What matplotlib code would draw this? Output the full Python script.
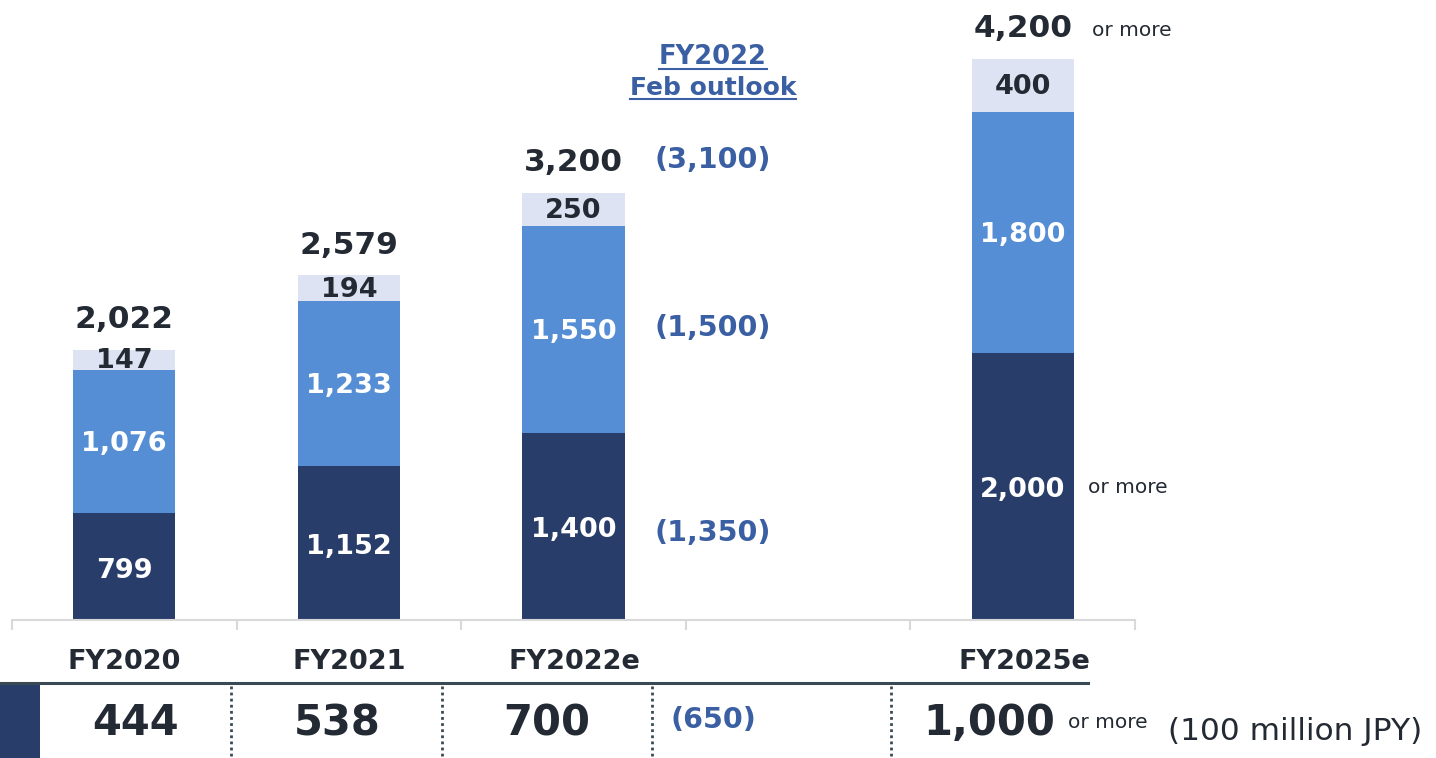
import matplotlib.pyplot as plt
from matplotlib.patches import Rectangle
from matplotlib.lines import Line2D

# data (100 million JPY)
categories = ["FY2020", "FY2021", "FY2022e", "", "FY2025e"]
bottom_vals = [799, 1152, 1400, 0, 2000]
middle_vals = [1076, 1233, 1550, 0, 1800]
top_vals = [147, 194, 250, 0, 400]
totals = [2022, 2579, 3200, 0, 4200]
outlook_vals = [3100, 1500, 1350]          # FY2022 Feb outlook (total, middle, bottom)
table_vals = ["444", "538", "700", "(650)", "1,000"]

NAVY = "#283d6a"
MID = "#558ed5"
LIGHT = "#dde3f2"
DARK = "#232a33"
BLUE_TXT = "#3a5fa3"
GRID = "#d9d9d9"

W, H = 1436, 758
fig = plt.figure(figsize=(W / 100, H / 100), dpi=100)


def fx(px):
    return px / W


def fy(py):
    return 1 - py / H


ax = fig.add_axes([fx(12), fy(620), fx(1135) - fx(12), fy(0) - fy(620)])
ax.set_xlim(-0.5, 4.5)
ax.set_ylim(0, 4641)
for s in ["top", "left", "right"]:
    ax.spines[s].set_visible(False)
ax.spines["bottom"].set_color(GRID)
ax.spines["bottom"].set_linewidth(1.5)
ax.set_yticks([])
ax.set_xticks([i - 0.5 for i in range(6)])
ax.set_xticklabels([])
ax.tick_params(axis="x", length=7, width=1.5, color=GRID, direction="out")

x = list(range(len(categories)))
bw = 0.455
ax.bar(x, bottom_vals, width=bw, color=NAVY)
ax.bar(x, middle_vals, width=bw, bottom=bottom_vals, color=MID)
mid_top = [b + m for b, m in zip(bottom_vals, middle_vals)]
ax.bar(x, top_vals, width=bw, bottom=mid_top, color=LIGHT)

seg_fs = 19.5
for i in x:
    if totals[i] == 0:
        continue
    ax.text(i, bottom_vals[i] / 2 - 30, f"{bottom_vals[i]:,}", ha="center", va="center",
            color="white", fontsize=seg_fs, fontweight="bold")
    ax.text(i, bottom_vals[i] + middle_vals[i] / 2 - 20, f"{middle_vals[i]:,}", ha="center",
            va="center", color="white", fontsize=seg_fs, fontweight="bold")
    ax.text(i, mid_top[i] + top_vals[i] / 2 - 10, f"{top_vals[i]:,}", ha="center",
            va="center", color=DARK, fontsize=seg_fs, fontweight="bold")
    ax.text(i, totals[i] + 225, f"{totals[i]:,}", ha="center", va="center",
            color=DARK, fontsize=22.5, fontweight="bold")

# "or more" notes for FY2025e
ax.text(4.31, totals[4] + 210, "or more", ha="left", va="center", color=DARK, fontsize=14.5)
ax.text(4.29, bottom_vals[4] / 2 - 10, "or more", ha="left", va="center", color=DARK,
        fontsize=14.5)

# FY2022 Feb outlook column
ox = 2.62
ax.text(ox, outlook_vals[0] + 340, f"({outlook_vals[0]:,})", ha="center", va="center",
        color=BLUE_TXT, fontsize=20.5, fontweight="bold")
ax.text(ox, bottom_vals[2] + middle_vals[2] / 2 + 10, f"({outlook_vals[1]:,})", ha="center",
        va="center", color=BLUE_TXT, fontsize=20.5, fontweight="bold")
ax.text(ox, bottom_vals[2] / 2 - 50, f"({outlook_vals[2]:,})", ha="center", va="center",
        color=BLUE_TXT, fontsize=20.5, fontweight="bold")
hdr1 = ax.text(ox, 4215, "FY2022", ha="center", va="center", color=BLUE_TXT,
               fontsize=18.5, fontweight="bold")
hdr2 = ax.text(ox, 3980, "Feb outlook", ha="center", va="center", color=BLUE_TXT,
               fontsize=18, fontweight="bold")

# category labels
for i, c in enumerate(categories):
    if c:
        fig.text(fx(124 + 225 * i), fy(662), c, ha="center", va="center",
                 color=DARK, fontsize=19.5, fontweight="bold")

# table row
fig.add_artist(Line2D([0, fx(1088)], [fy(683), fy(683)], color="#3a4a55", lw=2.2))
fig.add_artist(Rectangle((0, 0), fx(40), fy(684), color=NAVY, lw=0))
for sx in [231, 442, 652, 891]:
    fig.add_artist(Line2D([fx(sx), fx(sx)], [fy(686), 0], color="#3a4a55",
                          lw=2, linestyle=(0, (1, 1.2))))
tx = [135, 337, 547, 713, 989]
for v, px in zip(table_vals, tx):
    if v.startswith("("):
        fig.text(fx(px), fy(720), v, ha="center", va="center", color=BLUE_TXT,
                 fontsize=20.5, fontweight="bold")
    else:
        fig.text(fx(px), fy(723), v, ha="center", va="center", color=DARK,
                 fontsize=30, fontweight="bold")
fig.text(fx(1068), fy(722), "or more", ha="left", va="center", color=DARK, fontsize=14.5)
fig.text(fx(1168), fy(731), "(100 million JPY)", ha="left", va="center", color=DARK,
         fontsize=22.5)

# underline the outlook header
fig.canvas.draw()
r = fig.canvas.get_renderer()
for t in [hdr1, hdr2]:
    bb = t.get_window_extent(r)
    yline = bb.y0 + 1
    fig.add_artist(Line2D([bb.x0 / W, bb.x1 / W], [yline / H, yline / H],
                          color=BLUE_TXT, lw=1.5))

fig.savefig("out.png", dpi=100)
